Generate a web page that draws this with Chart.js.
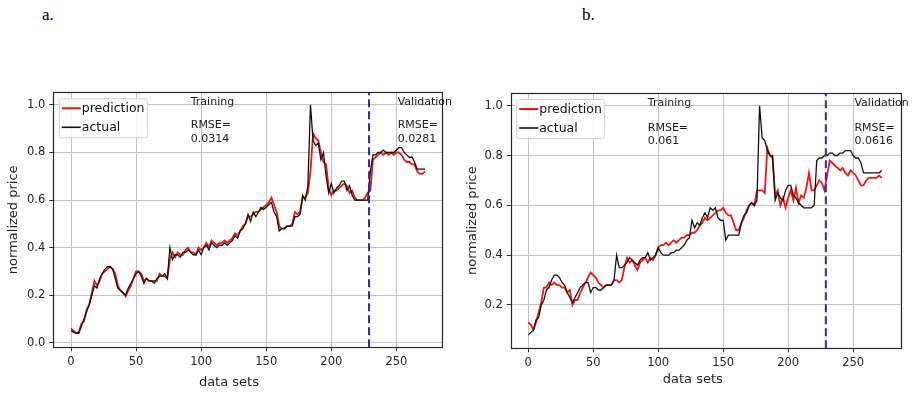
<!DOCTYPE html>
<html><head><meta charset="utf-8">
<script src="https://cdn.jsdelivr.net/npm/chart.js@4.4.1/dist/chart.umd.min.js"></script>
<style>
html,body{margin:0;padding:0;background:#fff;width:917px;height:393px;overflow:hidden;}
.lab{position:absolute;font-family:'Liberation Serif','Times New Roman',serif;font-size:17px;color:#000;line-height:20px;}
canvas{position:absolute;}
</style></head><body>
<div class="lab" style="left:42px;top:5px">a.</div>
<div class="lab" style="left:582px;top:5px">b.</div>
<canvas id="ca" width="460" height="313" style="left:0;top:80px"></canvas>
<canvas id="cb" width="459" height="313" style="left:458px;top:80px"></canvas>
<script>
// x positions (data set index)
const xs = [0,2,4,6,8,10,12,14,16,18,
20,22,24,26,28,30,32,34,36,38,
40,42,44,46,48,50,52,54,56,58,
60,62,64,66,68,70,72,74,76,78,
80,82,84,86,88,90,92,94,96,98,
100,102,104,106,108,110,112,114,116,118,
120,122,124,126,128,130,132,134,136,138,
140,142,144,146,148,150,152,154,156,158,
160,162,164,166,168,170,172,174,176,178,
180,182,184,186,188,190,192,194,196,198,
200,202,204,206,208,210,212,214,216,218,
220,222,224,226,228,230,232,234,236,238,
240,242,244,246,248,250,252,254,256,258,
260,262,264,266,268,270,272];

// chart a
const aActual = [0.05,0.045,0.04,0.04,0.07,0.10,0.13,0.16,0.20,0.24,
0.23,0.27,0.29,0.31,0.32,0.32,0.31,0.27,0.23,0.22,
0.21,0.20,0.23,0.25,0.27,0.29,0.30,0.28,0.25,0.27,
0.26,0.26,0.25,0.27,0.28,0.28,0.29,0.27,0.40,0.35,
0.37,0.37,0.36,0.38,0.38,0.39,0.38,0.37,0.37,0.39,
0.37,0.40,0.41,0.39,0.42,0.41,0.40,0.41,0.41,0.42,
0.41,0.42,0.43,0.45,0.44,0.47,0.48,0.50,0.54,0.51,
0.55,0.53,0.55,0.57,0.56,0.57,0.58,0.59,0.55,0.53,
0.47,0.48,0.48,0.49,0.49,0.49,0.53,0.53,0.54,0.62,
0.60,0.66,1.00,0.85,0.83,0.84,0.77,0.80,0.70,0.63,
0.67,0.63,0.65,0.66,0.68,0.68,0.64,0.66,0.62,0.60,
0.60,0.60,0.60,0.60,0.60,0.72,0.79,0.79,0.80,0.80,
0.81,0.80,0.80,0.80,0.80,0.81,0.82,0.82,0.80,0.79,
0.78,0.78,0.76,0.73,0.73,0.73,0.73];
const aPred = [0.06,0.05,0.04,0.045,0.08,0.09,0.14,0.16,0.21,0.26,
0.24,0.26,0.29,0.30,0.31,0.32,0.31,0.29,0.24,0.22,
0.21,0.195,0.22,0.24,0.27,0.30,0.30,0.29,0.26,0.27,
0.26,0.26,0.26,0.26,0.29,0.28,0.28,0.27,0.35,0.38,
0.36,0.38,0.37,0.37,0.39,0.40,0.38,0.38,0.37,0.40,
0.39,0.40,0.42,0.40,0.43,0.42,0.41,0.42,0.42,0.43,
0.42,0.43,0.44,0.46,0.45,0.47,0.49,0.50,0.53,0.53,
0.54,0.55,0.55,0.56,0.57,0.58,0.59,0.61,0.58,0.55,
0.49,0.48,0.48,0.49,0.49,0.50,0.55,0.54,0.55,0.61,
0.61,0.63,0.72,0.88,0.86,0.85,0.80,0.76,0.75,0.65,
0.62,0.64,0.64,0.65,0.66,0.67,0.66,0.63,0.64,0.61,
0.60,0.60,0.60,0.61,0.63,0.64,0.77,0.78,0.79,0.80,
0.79,0.80,0.79,0.80,0.79,0.80,0.80,0.79,0.77,0.76,
0.76,0.75,0.75,0.72,0.71,0.71,0.72];

// chart b
const bActual = [0.08,0.09,0.10,0.14,0.15,0.20,0.22,0.26,0.27,0.30,
0.32,0.32,0.31,0.29,0.28,0.25,0.23,0.21,0.23,0.25,
0.27,0.28,0.29,0.29,0.25,0.27,0.27,0.26,0.26,0.27,
0.28,0.28,0.28,0.30,0.40,0.35,0.35,0.36,0.37,0.39,
0.38,0.37,0.36,0.38,0.39,0.39,0.41,0.38,0.39,0.40,
0.43,0.41,0.40,0.40,0.40,0.41,0.41,0.42,0.42,0.43,
0.44,0.46,0.47,0.54,0.51,0.53,0.52,0.55,0.57,0.55,
0.59,0.58,0.59,0.55,0.54,0.54,0.46,0.48,0.48,0.48,
0.48,0.48,0.53,0.56,0.57,0.60,0.61,0.60,0.62,1.00,
0.87,0.86,0.82,0.80,0.80,0.62,0.65,0.63,0.62,0.66,
0.68,0.68,0.64,0.63,0.61,0.60,0.59,0.59,0.59,0.59,
0.60,0.78,0.79,0.79,0.80,0.80,0.81,0.81,0.80,0.80,
0.81,0.81,0.82,0.82,0.82,0.80,0.79,0.79,0.77,0.73,
0.73,0.73,0.73,0.73,0.73,0.73,0.74];
const bPred = [0.13,0.12,0.10,0.13,0.17,0.21,0.27,0.27,0.29,0.28,
0.29,0.28,0.28,0.27,0.27,0.25,0.26,0.20,0.22,0.22,
0.25,0.27,0.29,0.31,0.33,0.32,0.31,0.29,0.28,0.27,
0.28,0.28,0.28,0.30,0.30,0.29,0.30,0.35,0.39,0.37,
0.38,0.36,0.34,0.37,0.38,0.39,0.37,0.39,0.38,0.40,
0.43,0.44,0.44,0.45,0.44,0.45,0.46,0.45,0.46,0.47,
0.47,0.48,0.48,0.49,0.49,0.50,0.52,0.53,0.55,0.54,
0.55,0.56,0.57,0.58,0.58,0.59,0.57,0.56,0.56,0.53,
0.50,0.50,0.53,0.55,0.58,0.60,0.61,0.60,0.66,0.66,
0.66,0.65,0.83,0.80,0.79,0.64,0.66,0.60,0.63,0.59,
0.63,0.66,0.62,0.67,0.61,0.64,0.63,0.67,0.73,0.66,
0.66,0.68,0.70,0.69,0.66,0.72,0.78,0.77,0.76,0.75,
0.74,0.75,0.73,0.72,0.74,0.73,0.72,0.70,0.68,0.68,
0.70,0.71,0.71,0.71,0.71,0.72,0.71];

const splitX = 229;
const xTicks = [0,50,100,150,200,250];
const aYTicks = [0.0,0.2,0.4,0.6,0.8,1.0];
const bYTicks = [0.2,0.4,0.6,0.8,1.0];
const aRange = {xmin:-13.6, xmax:285.6, ymin:-0.019, ymax:1.053};
const bRange = {xmin:-13.5, xmax:286.6, ymin:0.026, ymax:1.051};

Chart.defaults.font.family = '"DejaVu Sans", sans-serif';
Chart.defaults.color = '#222';

const overlay = {
  id: 'overlay',
  afterDatasetsDraw(chart) {
    const {ctx, chartArea: a} = chart;
    ctx.save();
    ctx.strokeStyle = '#262626'; ctx.lineWidth = 1.2;
    ctx.strokeRect(Math.round(a.left) + 0.5, Math.round(a.top) + 0.5,
      Math.round(a.right - a.left), Math.round(a.bottom - a.top));
    ctx.restore();
  },
  afterDraw(chart, args, o) {
    const {ctx, chartArea: a, scales} = chart;
    const x = scales.x, y = scales.y;
    ctx.save();
    ctx.fillStyle = '#1a1a1a';
    ctx.font = '11px "DejaVu Sans"';
    ctx.textAlign = 'left'; ctx.textBaseline = 'alphabetic';
    o.notes.forEach(n => {
      const px = x.getPixelForValue(n.x), py = y.getPixelForValue(n.y);
      n.lines.forEach((t, i) => ctx.fillText(t, px, py - (n.lines.length - 1 - i) * 13.5));
    });
    // x axis title
    ctx.font = '13px "DejaVu Sans"'; ctx.fillStyle = '#222';
    ctx.textAlign = 'center'; ctx.textBaseline = 'middle';
    ctx.fillText(o.xTitle, a.left + o.xTitleFrac * (a.right - a.left), o.xTitleY);
    // legend
    const items = chart.data.datasets.filter(d => d.inLegend);
    items.sort((p, q) => p.legendOrder - q.legendOrder);
    const bx = a.left + 5.5, by = a.top + 6, bw = 88, bh = 39;
    ctx.beginPath();
    ctx.roundRect(bx + 0.5, by + 0.5, bw, bh, 3);
    ctx.fillStyle = 'rgba(255,255,255,0.85)'; ctx.fill();
    ctx.strokeStyle = '#d0d0d0'; ctx.lineWidth = 1; ctx.stroke();
    ctx.font = '12.5px "DejaVu Sans"'; ctx.textAlign = 'left'; ctx.textBaseline = 'middle';
    items.forEach((d, i) => {
      const cy = by + 10 + i * 19;
      ctx.beginPath(); ctx.moveTo(bx + 3, cy); ctx.lineTo(bx + 22, cy);
      ctx.strokeStyle = d.borderColor; ctx.lineWidth = d.borderWidth + 0.3; ctx.stroke();
      ctx.fillStyle = '#111'; ctx.fillText(d.label, bx + 23, cy + 0.5);
    });
    ctx.restore();
  }
};

function pts(vals) { return vals.map((v, i) => ({x: xs[i], y: v})); }

function makeChart(id, actual, pred, range, yTicks, geo, notes) {
  return new Chart(document.getElementById(id), {
    type: 'line',
    data: {
      datasets: [
        {label: 'split', data: [{x: splitX, y: range.ymin}, {x: splitX, y: range.ymax}],
         borderColor: '#2a2aa8', borderWidth: 2, borderDash: [8, 4], pointRadius: 0, order: 0},
        {label: 'actual', data: pts(actual), borderColor: '#111111', borderWidth: 1.3,
         pointRadius: 0, tension: 0, order: 1, inLegend: true, legendOrder: 2},
        {label: 'prediction', data: pts(pred), borderColor: '#ee1515', borderWidth: 1.8,
         pointRadius: 0, tension: 0, order: 2, inLegend: true, legendOrder: 1}
      ]
    },
    options: {
      responsive: false, animation: false, devicePixelRatio: 1,
      layout: {padding: {left: 0, top: geo.top, right: geo.right, bottom: 0}},
      plugins: {
        legend: {display: false}, tooltip: {enabled: false},
        overlay: {notes: notes, xTitle: 'data sets', xTitleFrac: geo.xtFrac, xTitleY: geo.xtY}
      },
      scales: {
        x: {
          type: 'linear', min: range.xmin, max: range.xmax,
          afterFit: s => { s.height = geo.xh; },
          afterBuildTicks: s => { s.ticks = xTicks.map(v => ({value: v})); },
          ticks: {color: '#222', font: {size: 11.5}, padding: 4, maxRotation: 0, autoSkip: false,
                  callback: v => String(v)},
          grid: {color: '#c2c2c2', tickColor: '#333', tickLength: 4, lineWidth: 1},
          border: {display: false}
        },
        y: {
          min: range.ymin, max: range.ymax,
          afterFit: s => { s.width = geo.yw; },
          afterBuildTicks: s => { s.ticks = yTicks.map(v => ({value: v})); },
          ticks: {color: '#222', font: {size: 11.5}, padding: 4, callback: v => v.toFixed(1)},
          grid: {color: '#c2c2c2', tickColor: '#333', tickLength: 4, lineWidth: 1},
          border: {display: false},
          title: {display: true, text: 'normalized price', color: '#222', font: {size: 13},
                  padding: {top: geo.ytPad, bottom: 0}}
        }
      }
    },
    plugins: [overlay]
  });
}

makeChart('ca', aActual, aPred, aRange, aYTicks,
  {top: 12.3, right: 17.3, xh: 45.7, yw: 53.3, ytPad: 6.2, xtFrac: 0.451, xtY: 302.5},
  [{x: 92, y: 1.0, lines: ['Training']},
   {x: 92, y: 0.846, lines: ['RMSE=', '0.0314']},
   {x: 251, y: 1.0, lines: ['Validation']},
   {x: 251, y: 0.846, lines: ['RMSE=', '0.0281']}]);

makeChart('cb', bActual, bPred, bRange, bYTicks,
  {top: 13, right: 16.3, xh: 44.7, yw: 52.7, ytPad: 7.2, xtFrac: 0.467, xtY: 300},
  [{x: 92, y: 1.0, lines: ['Training']},
   {x: 92, y: 0.846, lines: ['RMSE=', '0.061']},
   {x: 251, y: 1.0, lines: ['Validation']},
   {x: 251, y: 0.846, lines: ['RMSE=', '0.0616']}]);
</script>
</body></html>
